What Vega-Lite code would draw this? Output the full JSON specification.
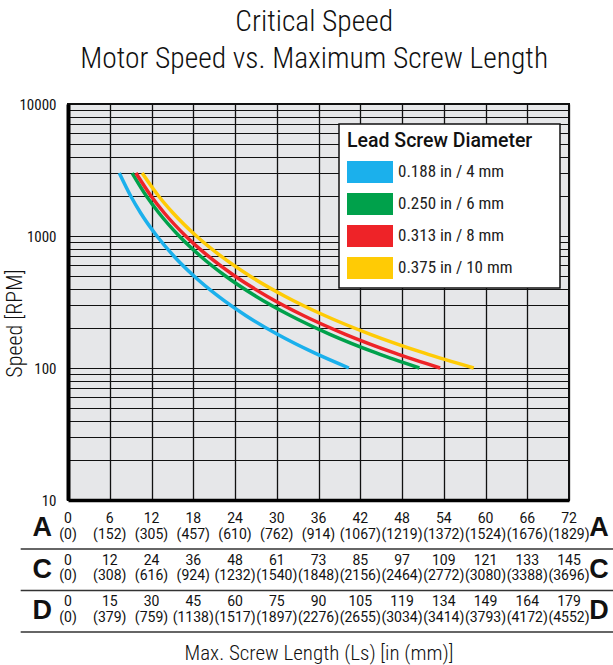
{
  "$schema": "https://vega.github.io/schema/vega-lite/v6.json",
  "background": "white",
  "padding": {"left": 2, "top": 6, "right": 0, "bottom": 4},
  "title": {"text": ["Critical Speed", "Motor Speed vs. Maximum Screw Length"], "fontSize": 29.5, "fontWeight": 300, "lineHeight": 37, "anchor": "middle", "offset": 22, "color": "#111", "font": "Liberation Sans Narrow, Roboto Condensed, Arial Narrow, Roboto, sans-serif"},
  "config": {"font": "Liberation Sans Narrow, Roboto Condensed, Arial Narrow, Roboto, sans-serif"},
  "bounds": "flush",
  "spacing": 0,
  "datasets": {
    "curves": [
      {"dia": "0.188 in / 4 mm", "length": 7.37, "speed": 3000},
      {"dia": "0.188 in / 4 mm", "length": 9.03, "speed": 2000},
      {"dia": "0.188 in / 4 mm", "length": 10.42, "speed": 1500},
      {"dia": "0.188 in / 4 mm", "length": 12.77, "speed": 1000},
      {"dia": "0.188 in / 4 mm", "length": 15.26, "speed": 700},
      {"dia": "0.188 in / 4 mm", "length": 18.06, "speed": 500},
      {"dia": "0.188 in / 4 mm", "length": 21.58, "speed": 350},
      {"dia": "0.188 in / 4 mm", "length": 25.53, "speed": 250},
      {"dia": "0.188 in / 4 mm", "length": 30.09, "speed": 180},
      {"dia": "0.188 in / 4 mm", "length": 35.41, "speed": 130},
      {"dia": "0.188 in / 4 mm", "length": 40.37, "speed": 100},
      {"dia": "0.250 in / 6 mm", "length": 9.22, "speed": 3000},
      {"dia": "0.250 in / 6 mm", "length": 11.29, "speed": 2000},
      {"dia": "0.250 in / 6 mm", "length": 13.04, "speed": 1500},
      {"dia": "0.250 in / 6 mm", "length": 15.97, "speed": 1000},
      {"dia": "0.250 in / 6 mm", "length": 19.09, "speed": 700},
      {"dia": "0.250 in / 6 mm", "length": 22.58, "speed": 500},
      {"dia": "0.250 in / 6 mm", "length": 26.99, "speed": 350},
      {"dia": "0.250 in / 6 mm", "length": 31.94, "speed": 250},
      {"dia": "0.250 in / 6 mm", "length": 37.64, "speed": 180},
      {"dia": "0.250 in / 6 mm", "length": 44.29, "speed": 130},
      {"dia": "0.250 in / 6 mm", "length": 50.5, "speed": 100},
      {"dia": "0.313 in / 8 mm", "length": 9.76, "speed": 3000},
      {"dia": "0.313 in / 8 mm", "length": 11.96, "speed": 2000},
      {"dia": "0.313 in / 8 mm", "length": 13.81, "speed": 1500},
      {"dia": "0.313 in / 8 mm", "length": 16.91, "speed": 1000},
      {"dia": "0.313 in / 8 mm", "length": 20.21, "speed": 700},
      {"dia": "0.313 in / 8 mm", "length": 23.92, "speed": 500},
      {"dia": "0.313 in / 8 mm", "length": 28.59, "speed": 350},
      {"dia": "0.313 in / 8 mm", "length": 33.82, "speed": 250},
      {"dia": "0.313 in / 8 mm", "length": 39.86, "speed": 180},
      {"dia": "0.313 in / 8 mm", "length": 46.9, "speed": 130},
      {"dia": "0.313 in / 8 mm", "length": 53.48, "speed": 100},
      {"dia": "0.375 in / 10 mm", "length": 10.65, "speed": 3000},
      {"dia": "0.375 in / 10 mm", "length": 13.04, "speed": 2000},
      {"dia": "0.375 in / 10 mm", "length": 15.06, "speed": 1500},
      {"dia": "0.375 in / 10 mm", "length": 18.44, "speed": 1000},
      {"dia": "0.375 in / 10 mm", "length": 22.04, "speed": 700},
      {"dia": "0.375 in / 10 mm", "length": 26.08, "speed": 500},
      {"dia": "0.375 in / 10 mm", "length": 31.17, "speed": 350},
      {"dia": "0.375 in / 10 mm", "length": 36.88, "speed": 250},
      {"dia": "0.375 in / 10 mm", "length": 43.46, "speed": 180},
      {"dia": "0.375 in / 10 mm", "length": 51.14, "speed": 130},
      {"dia": "0.375 in / 10 mm", "length": 58.31, "speed": 100}
    ],
    "table": [
      {"row": "A", "x": 0, "v": "0", "mm": "(0)"},
      {"row": "A", "x": 6, "v": "6", "mm": "(152)"},
      {"row": "A", "x": 12, "v": "12", "mm": "(305)"},
      {"row": "A", "x": 18, "v": "18", "mm": "(457)"},
      {"row": "A", "x": 24, "v": "24", "mm": "(610)"},
      {"row": "A", "x": 30, "v": "30", "mm": "(762)"},
      {"row": "A", "x": 36, "v": "36", "mm": "(914)"},
      {"row": "A", "x": 42, "v": "42", "mm": "(1067)"},
      {"row": "A", "x": 48, "v": "48", "mm": "(1219)"},
      {"row": "A", "x": 54, "v": "54", "mm": "(1372)"},
      {"row": "A", "x": 60, "v": "60", "mm": "(1524)"},
      {"row": "A", "x": 66, "v": "66", "mm": "(1676)"},
      {"row": "A", "x": 72, "v": "72", "mm": "(1829)"},
      {"row": "C", "x": 0, "v": "0", "mm": "(0)"},
      {"row": "C", "x": 6, "v": "12", "mm": "(308)"},
      {"row": "C", "x": 12, "v": "24", "mm": "(616)"},
      {"row": "C", "x": 18, "v": "36", "mm": "(924)"},
      {"row": "C", "x": 24, "v": "48", "mm": "(1232)"},
      {"row": "C", "x": 30, "v": "61", "mm": "(1540)"},
      {"row": "C", "x": 36, "v": "73", "mm": "(1848)"},
      {"row": "C", "x": 42, "v": "85", "mm": "(2156)"},
      {"row": "C", "x": 48, "v": "97", "mm": "(2464)"},
      {"row": "C", "x": 54, "v": "109", "mm": "(2772)"},
      {"row": "C", "x": 60, "v": "121", "mm": "(3080)"},
      {"row": "C", "x": 66, "v": "133", "mm": "(3388)"},
      {"row": "C", "x": 72, "v": "145", "mm": "(3696)"},
      {"row": "D", "x": 0, "v": "0", "mm": "(0)"},
      {"row": "D", "x": 6, "v": "15", "mm": "(379)"},
      {"row": "D", "x": 12, "v": "30", "mm": "(759)"},
      {"row": "D", "x": 18, "v": "45", "mm": "(1138)"},
      {"row": "D", "x": 24, "v": "60", "mm": "(1517)"},
      {"row": "D", "x": 30, "v": "75", "mm": "(1897)"},
      {"row": "D", "x": 36, "v": "90", "mm": "(2276)"},
      {"row": "D", "x": 42, "v": "105", "mm": "(2655)"},
      {"row": "D", "x": 48, "v": "119", "mm": "(3034)"},
      {"row": "D", "x": 54, "v": "134", "mm": "(3414)"},
      {"row": "D", "x": 60, "v": "149", "mm": "(3793)"},
      {"row": "D", "x": 66, "v": "164", "mm": "(4172)"},
      {"row": "D", "x": 72, "v": "179", "mm": "(4552)"}
    ],
    "rows": [{"row": "A"}, {"row": "C"}, {"row": "D"}]
  },
  "vconcat": [
    {
      "width": 501,
      "height": 396,
      "view": {"fill": "#e6e7e9", "stroke": "#111", "strokeWidth": 2},
      "data": {"name": "curves"},
      "mark": {"type": "line", "strokeWidth": 3.5, "interpolate": "monotone"},
      "encoding": {
        "x": {"field": "length", "type": "quantitative",
          "scale": {"domain": [0, 72], "nice": false},
          "axis": {"values": [0, 6, 12, 18, 24, 30, 36, 42, 48, 54, 60, 66, 72], "labels": false, "ticks": false, "title": null, "domainWidth": 3.5, "domainColor": "#000", "grid": true, "gridColor": "#111", "gridWidth": 1.3, "gridOpacity": 1}},
        "y": {"field": "speed", "type": "quantitative",
          "scale": {"type": "log", "domain": [10, 10000], "nice": false},
          "axis": {"values": [10, 20, 30, 40, 50, 60, 70, 80, 90, 100, 200, 300, 400, 500, 600, 700, 800, 900, 1000, 2000, 3000, 4000, 5000, 6000, 7000, 8000, 9000, 10000],
            "format": "d",
            "labelExpr": "(datum.value == 10 || datum.value == 100 || datum.value == 1000 || datum.value == 10000) ? datum.label : ''",
            "labelOverlap": false, "ticks": false, "domainWidth": 4, "domainColor": "#000",
            "grid": true, "gridColor": "#111", "gridWidth": 1.1, "gridOpacity": 1,
            "labelFontSize": 15, "labelPadding": 12, "labelColor": "#111",
            "title": "Speed [RPM]", "titleFontSize": 22, "titleFontWeight": 300, "titlePadding": -8, "titleY": 219, "titleColor": "#111"}},
        "color": {"field": "dia", "type": "nominal",
          "scale": {"domain": ["0.188 in / 4 mm", "0.250 in / 6 mm", "0.313 in / 8 mm", "0.375 in / 10 mm"], "range": ["#1bb0ec", "#00a14b", "#ee2328", "#ffcb05"]},
          "legend": {"orient": "none", "legendX": 271, "legendY": 20, "title": "Lead Screw Diameter\u00a0\u00a0\u00a0\u00a0\u200b", "titleLimit": 400, "titleFont": "Roboto, sans-serif", "titleFontSize": 19.5, "titleFontWeight": 500, "titleColor": "#111", "titlePadding": 9,
            "labelFontSize": 17, "labelColor": "#222", "labelOffset": 16.5,
            "symbolType": "M-2,-0.96H2V0.96H-2Z", "symbolSize": 529, "symbolStrokeWidth": 0, "symbolOffset": 11.5,
            "rowPadding": 9, "padding": 8, "fillColor": "white", "strokeColor": "#111",
            "encode": {"symbols": {"update": {"fill": {"scale": "color", "field": "value"}, "stroke": {"value": "transparent"}}}, "legend": {"update": {"strokeWidth": {"value": 1.5}}}}}}
      }
    },
    {
      "width": 501,
      "height": 132,
      "view": {"stroke": null},
      "layer": [
        {
          "data": {"name": "table"},
          "mark": {"type": "text", "fontSize": 14, "font": "Roboto, sans-serif", "dy": -9, "color": "#111"},
          "encoding": {
            "x": {"field": "x", "type": "quantitative", "scale": {"domain": [0, 72], "nice": false},
              "axis": {"title": "Max. Screw Length (Ls) [in (mm)]", "labels": false, "ticks": false, "domain": false, "grid": false, "titleFontSize": 21, "titleFontWeight": 300, "titleColor": "#111", "titlePadding": 10}},
            "y": {"field": "row", "type": "nominal", "scale": {"type": "band", "domain": ["A", "C", "D"], "paddingInner": 0, "paddingOuter": 0.09, "align": 1}, "axis": null},
            "text": {"field": "v"}
          }
        },
        {
          "data": {"name": "table"},
          "mark": {"type": "text", "fontSize": 14, "font": "Roboto, sans-serif", "dy": 6.5, "color": "#111"},
          "encoding": {
            "x": {"field": "x", "type": "quantitative"},
            "y": {"field": "row", "type": "nominal"},
            "text": {"field": "mm"}
          }
        },
        {
          "data": {"name": "rows"},
          "mark": {"type": "rule", "color": "#333", "strokeWidth": 1.5},
          "encoding": {
            "x": {"datum": -6.8, "type": "quantitative"},
            "x2": {"datum": 80},
            "y": {"field": "row", "type": "nominal", "bandPosition": 1}
          }
        },
        {
          "data": {"name": "rows"},
          "mark": {"type": "text", "fontSize": 27, "fontWeight": "bold", "font": "Liberation Sans, Arial, sans-serif", "color": "#111"},
          "encoding": {
            "x": {"datum": -3.7, "type": "quantitative"},
            "y": {"field": "row", "type": "nominal"},
            "text": {"field": "row"}
          }
        },
        {
          "data": {"name": "rows"},
          "mark": {"type": "text", "fontSize": 27, "fontWeight": "bold", "font": "Liberation Sans, Arial, sans-serif", "color": "#111"},
          "encoding": {
            "x": {"datum": 76.3, "type": "quantitative"},
            "y": {"field": "row", "type": "nominal"},
            "text": {"field": "row"}
          }
        }
      ]
    }
  ]
}
